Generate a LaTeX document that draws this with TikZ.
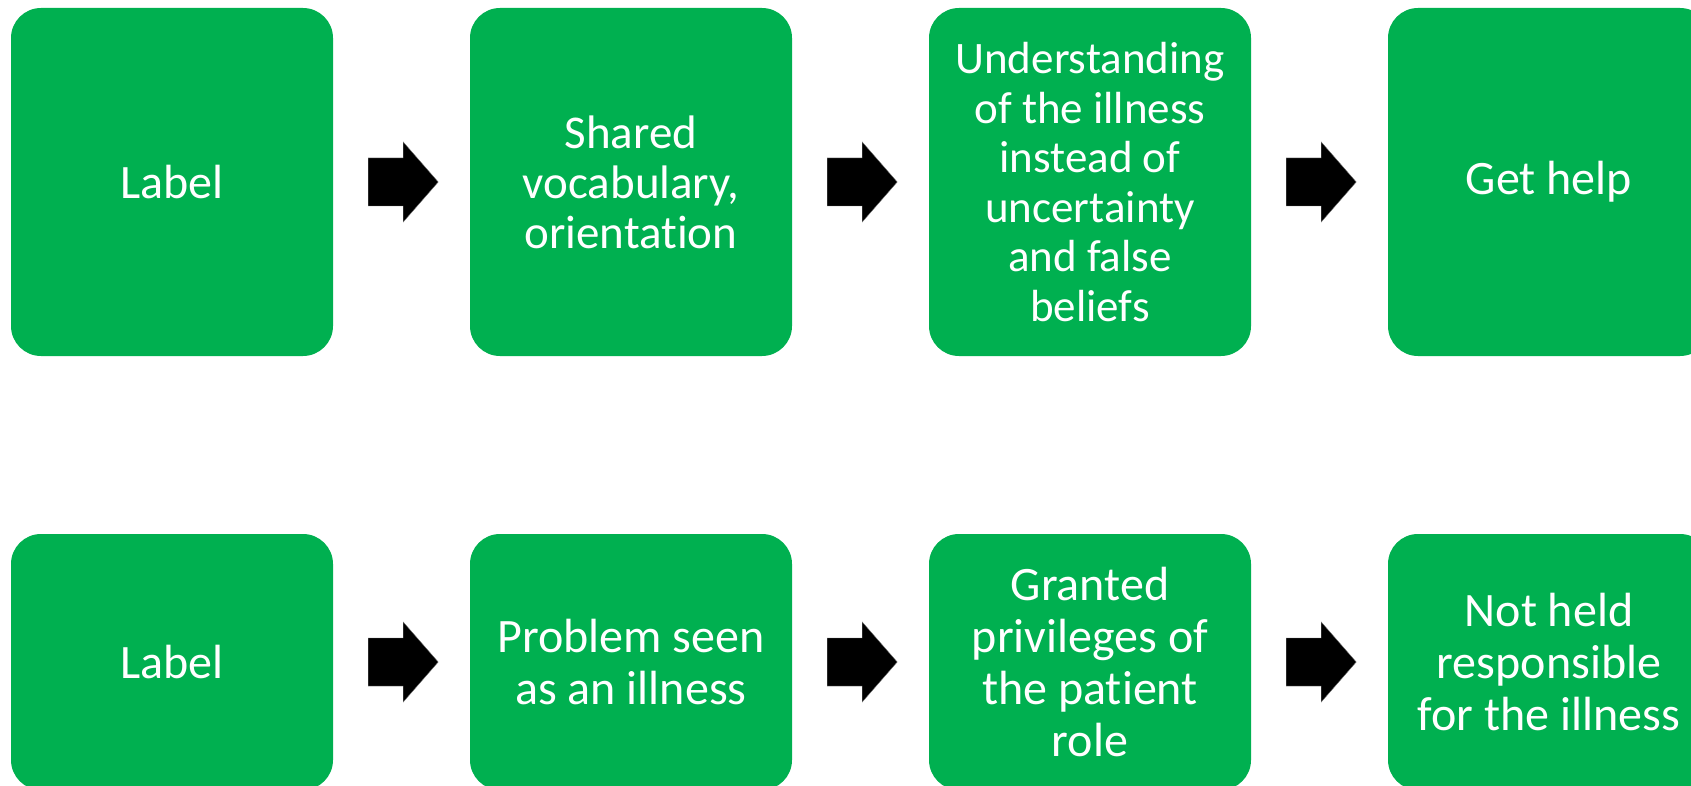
\documentclass[tikz,border=0pt]{standalone}
\usepackage{fontspec}
\setmainfont[Ligatures=NoCommon]{Carlito}
\usetikzlibrary{calc}
\definecolor{boxgreen}{HTML}{00B050}
\tikzset{
  stepbox/.style={fill=boxgreen, rounded corners=30pt, inner sep=0pt,
    minimum width=322pt, text=white, align=center,
    font=\fontsize{48}{52}\selectfont},
  tallbox/.style={stepbox, minimum height=348pt},
  shortbox/.style={stepbox, minimum height=256pt},
  blockarrow/.style={fill=black, draw=black!55, line width=0.4pt}
}
\newcommand\flowarrow[1]{%
  \path[blockarrow] ($(#1.east)+(35,-24)$) -- ++(35,0) -- ++(0,-16) -- ++(35,40)
    -- ++(-35,40) -- ++(0,-16) -- ++(-35,0) -- cycle;}
\begin{document}
\begin{tikzpicture}[x=1pt,y=-1pt]
\useasboundingbox (0,0) rectangle (1691,786);
\clip (0,0) rectangle (1691,786);
\fill[white] (0,0) rectangle (1691,786);
% row 1
\node[tallbox] (a1) at (172,182) {Label};
\node[tallbox, font=\fontsize{47}{50}\selectfont] (a2) at (631,182) {Shared\\vocabulary,\\orientation};
\node[tallbox, font=\fontsize{45}{49.5}\selectfont] (a3) at (1090,182)
  {Understanding\\of the illness\\instead of\\uncertainty\\and false\\beliefs};
\node[tallbox] (a4) at (1549,182) {Get help};
% row 2
\node[shortbox] (b1) at (172,662) {Label};
\node[shortbox] (b2) at (631,662) {Problem seen\\as an illness};
\node[shortbox] (b3) at (1090,662) {Granted\\privileges of\\the patient\\role};
\node[shortbox] (b4) at (1549,662) {Not held\\responsible\\for the illness};
% arrows
\flowarrow{a1}
\flowarrow{a2}
\flowarrow{a3}
\flowarrow{b1}
\flowarrow{b2}
\flowarrow{b3}
\end{tikzpicture}
\end{document}
